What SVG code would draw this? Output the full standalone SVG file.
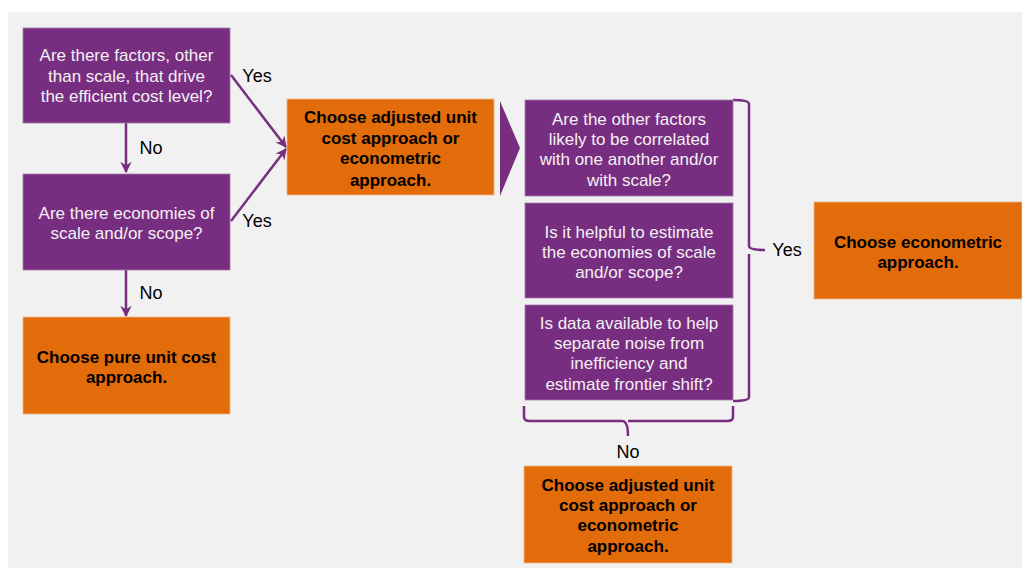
<svg xmlns="http://www.w3.org/2000/svg" width="1022" height="568" viewBox="0 0 1022 568">
<defs>
<style>
.q{fill:#782E80;stroke:#A679AC;stroke-width:0.8}
.o{fill:#E36C0A;stroke:#F3B684;stroke-width:0.8}
.qt{font-family:"Liberation Sans",Arial,sans-serif;font-size:17px;fill:#F4F0F5;text-anchor:middle}
.ot{font-family:"Liberation Sans",Arial,sans-serif;font-size:17px;font-weight:bold;fill:#000;text-anchor:middle}
.lb{font-family:"Liberation Sans",Arial,sans-serif;font-size:18px;fill:#000;text-anchor:middle}
.ln{fill:none;stroke:#782E80;stroke-width:2.5}
.br{fill:none;stroke:#782E80;stroke-width:2.5;stroke-linejoin:round}
</style>
<marker id="ah" viewBox="0 0 10 10" refX="9" refY="5" markerWidth="4.5" markerHeight="4.5" orient="auto" markerUnits="strokeWidth">
<path d="M0,0 L10,5 L0,10 L3,5 Z" fill="#782E80"/>
</marker>
</defs>
<rect x="8" y="12" width="1014" height="556" fill="#F1F1F1"/>

<g id="connectors">
<line class="ln" x1="126" y1="123" x2="126" y2="172" marker-end="url(#ah)"/>
<line class="ln" x1="126" y1="270" x2="126" y2="316" marker-end="url(#ah)"/>
<line class="ln" x1="231" y1="75" x2="286" y2="147" marker-end="url(#ah)"/>
<line class="ln" x1="231" y1="221" x2="286" y2="149" marker-end="url(#ah)"/>
<path class="br" d="M733,100 Q749,100 749,104 L749,246 Q749,250 765,250 M749,254 L749,397 Q749,401 733,401"/>
<path class="br" d="M524,406 L524,417 Q524,421 530,421 L622,421 Q628,421 628,436 M628,421 L727,421 Q733,421 733,417 L733,406"/>
<polygon points="500,101 520,148 500,196" fill="#782E80"/>
<text class="lb" x="151" y="154">No</text>
<text class="lb" x="151" y="299">No</text>
<text class="lb" x="257" y="82">Yes</text>
<text class="lb" x="257" y="227">Yes</text>
<text class="lb" x="787" y="256">Yes</text>
<text class="lb" x="628" y="458">No</text>
</g>

<g id="q1">
<rect class="q" x="23" y="28" width="207" height="95"/>
<text class="qt" x="126.5" y="61">Are there factors, other</text>
<text class="qt" x="126.5" y="82">than scale, that drive</text>
<text class="qt" x="126.5" y="102">the efficient cost level?</text>
</g>
<g id="q2">
<rect class="q" x="23" y="174" width="207" height="96"/>
<text class="qt" x="126.5" y="219">Are there economies of</text>
<text class="qt" x="126.5" y="239">scale and/or scope?</text>
</g>
<g id="pure">
<rect class="o" x="23" y="317" width="207" height="97"/>
<text class="ot" x="126.5" y="363">Choose pure unit cost</text>
<text class="ot" x="126.5" y="383">approach.</text>
</g>
<g id="adj1">
<rect class="o" x="287" y="99" width="207" height="96"/>
<text class="ot" x="390.5" y="123">Choose adjusted unit</text>
<text class="ot" x="390.5" y="144">cost approach or</text>
<text class="ot" x="390.5" y="164">econometric</text>
<text class="ot" x="390.5" y="186">approach.</text>
</g>
<g id="qa">
<rect class="q" x="525" y="100" width="208" height="96"/>
<text class="qt" x="629" y="125">Are the other factors</text>
<text class="qt" x="629" y="145">likely to be correlated</text>
<text class="qt" x="629" y="165">with one another and/or</text>
<text class="qt" x="629" y="186">with scale?</text>
</g>
<g id="qb">
<rect class="q" x="525" y="203" width="208" height="95"/>
<text class="qt" x="629" y="238">Is it helpful to estimate</text>
<text class="qt" x="629" y="258">the economies of scale</text>
<text class="qt" x="629" y="278">and/or scope?</text>
</g>
<g id="qc">
<rect class="q" x="525" y="305" width="208" height="95"/>
<text class="qt" x="629" y="329">Is data available to help</text>
<text class="qt" x="629" y="349">separate noise from</text>
<text class="qt" x="629" y="369">inefficiency and</text>
<text class="qt" x="629" y="390">estimate frontier shift?</text>
</g>
<g id="econ">
<rect class="o" x="814" y="202" width="208" height="97"/>
<text class="ot" x="918" y="248">Choose econometric</text>
<text class="ot" x="918" y="268">approach.</text>
</g>
<g id="adj2">
<rect class="o" x="524" y="466" width="208" height="97"/>
<text class="ot" x="628" y="491">Choose adjusted unit</text>
<text class="ot" x="628" y="511">cost approach or</text>
<text class="ot" x="628" y="531">econometric</text>
<text class="ot" x="628" y="552">approach.</text>
</g>
</svg>
